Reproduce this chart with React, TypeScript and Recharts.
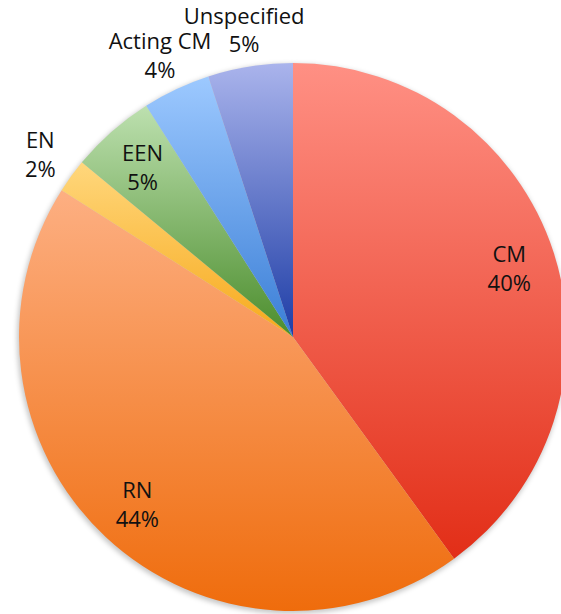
import React from 'react';
import { PieChart, Pie, Cell } from 'recharts';

const categories = ['CM', 'RN', 'EN', 'EEN', 'Acting CM', 'Unspecified'];
const shares = [40, 44, 2, 5, 4, 5];

// top / bottom colour of each slice's vertical gradient
const gradTop = ['#FF9084', '#FDAF82', '#FFD77C', '#BDE0AF', '#9DC9FF', '#AAB4EC'];
const gradBottom = ['#E22E17', '#EF6C0C', '#F7A91C', '#4B8D2C', '#3A7ED6', '#1E3DA6'];

// slices whose labels sit outside the pie
const outsideLabels = new Set(['EN', 'Acting CM', 'Unspecified']);

const data = categories.map((name, i) => ({ name, value: shares[i] }));

const RAD = Math.PI / 180;

const renderLabel = (props: any) => {
  const { cx, cy, midAngle, outerRadius, name, value } = props;
  const r = outsideLabels.has(name) ? outerRadius * 1.14 : outerRadius * 0.83;
  const x = cx + r * Math.cos(-midAngle * RAD);
  const y = cy + r * Math.sin(-midAngle * RAD);
  return (
    <text
      x={x}
      y={y}
      textAnchor="middle"
      fill="#111"
      fontFamily="'Open Sans', sans-serif"
      fontSize={22}
    >
      <tspan x={x} y={y - 5}>{name}</tspan>
      <tspan x={x} y={y + 24}>{value}%</tspan>
    </text>
  );
};

const App: React.FC = () => {
  return (
    <div style={{ position: 'absolute', left: 0, top: 0, background: '#fff' }}>
      <PieChart width={561} height={614} margin={{ top: 0, right: 0, bottom: 0, left: 0 }}>
        <defs>
          {categories.map((c, i) => (
            <linearGradient key={c} id={`grad${i}`} x1="0" y1="0" x2="0" y2="1">
              <stop offset="0%" stopColor={gradTop[i]} />
              <stop offset="100%" stopColor={gradBottom[i]} />
            </linearGradient>
          ))}
          <filter id="pieShadow" x="-10%" y="-10%" width="120%" height="120%">
            <feGaussianBlur stdDeviation="2.5" />
          </filter>
        </defs>
        {/* soft shadow under the pie */}
        <Pie
          data={data}
          dataKey="value"
          cx={292}
          cy={339}
          outerRadius={275}
          startAngle={90}
          endAngle={-270}
          stroke="none"
          fill="#000"
          fillOpacity={0.22}
          style={{ filter: 'url(#pieShadow)' }}
          isAnimationActive={false}
          legendType="none"
        />
        <Pie
          data={data}
          dataKey="value"
          nameKey="name"
          cx={293}
          cy={337}
          outerRadius={274}
          startAngle={90}
          endAngle={-270}
          stroke="none"
          label={renderLabel}
          labelLine={false}
          isAnimationActive={false}
        >
          {data.map((d, i) => (
            <Cell key={d.name} fill={`url(#grad${i})`} />
          ))}
        </Pie>
      </PieChart>
    </div>
  );
};

export default App;
